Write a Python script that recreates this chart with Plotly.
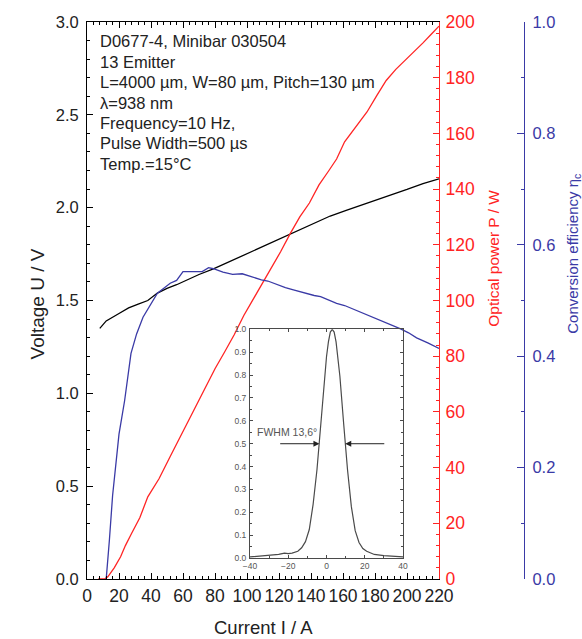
import plotly.graph_objects as go

# Voltage U (V) vs current I (A)
current_u = [8, 12, 20, 26, 32, 38, 44, 50, 56, 62, 70, 79, 88, 96, 102, 108, 116,
             127, 135, 143, 152, 162, 172, 181, 190, 200, 210, 220]
voltage = [1.35, 1.39, 1.43, 1.46, 1.48, 1.50, 1.54, 1.565, 1.585, 1.61, 1.64, 1.67,
           1.705, 1.74, 1.762, 1.785, 1.815, 1.86, 1.89, 1.92, 1.955, 1.985, 2.015,
           2.04, 2.065, 2.098, 2.13, 2.155]

# Optical power P (W) vs current I (A)
current_p = [7, 11, 13, 17, 21, 24, 28, 33, 38, 42, 45, 52, 60, 68, 75, 80, 86, 92,
             98, 104, 110, 116, 121, 127, 133, 139, 145, 151, 156, 161, 168, 175,
             181, 187, 193, 198, 204, 210, 215, 220]
power = [0, 0, 0.8, 4, 8, 12, 16.5, 22, 29.5, 33, 36, 44, 53, 62, 70, 75.5, 81.5,
         87.7, 94.6, 100.5, 106.6, 112.5, 117.5, 124, 130, 135, 141.5, 146.5, 150.8,
         157, 162.5, 167.7, 173.5, 179, 183, 185.7, 189, 192.5, 195.5, 198.5]

# Conversion efficiency vs current I (A)
current_e = [7, 12, 14, 16, 20, 23.5, 27.5, 31, 35, 38, 40.5, 44, 48, 52, 56, 60, 66,
             72, 76, 79, 85, 91, 97, 103, 109, 113, 119, 124, 129, 136, 142, 146, 151,
             156, 161, 167, 173, 179, 185, 191, 196, 201, 206, 213, 220]
efficiency = [-0.03, 0.0, 0.07, 0.15, 0.26, 0.32, 0.405, 0.44, 0.47, 0.485, 0.497,
              0.513, 0.522, 0.531, 0.536, 0.552, 0.552, 0.552, 0.559, 0.557, 0.551,
              0.547, 0.548, 0.542, 0.537, 0.535, 0.528, 0.523, 0.519, 0.513, 0.509,
              0.507, 0.501, 0.495, 0.491, 0.484, 0.477, 0.47, 0.462, 0.455, 0.449,
              0.442, 0.433, 0.424, 0.414]

# Far-field profile (inset), angle in degrees vs normalised intensity
angle = [-40, -35, -30, -25, -22, -20, -18, -16, -15, -13, -11, -9, -7, -5, -3, -1,
         0, 1, 2, 3, 4, 5, 6, 7, 9, 11, 13, 15, 17, 19, 21, 23, 25, 30, 35, 40]
intensity = [0.005, 0.008, 0.012, 0.016, 0.022, 0.02, 0.022, 0.026, 0.03, 0.045,
             0.072, 0.125, 0.235, 0.385, 0.585, 0.795, 0.88, 0.945, 0.988, 1.0,
             0.988, 0.945, 0.88, 0.795, 0.585, 0.385, 0.225, 0.12, 0.068, 0.042,
             0.03, 0.022, 0.016, 0.011, 0.008, 0.005]

info_lines = ["D0677-4, Minibar 030504", "13 Emitter",
              "L=4000 µm, W=80 µm, Pitch=130 µm", "λ=938 nm",
              "Frequency=10 Hz,", "Pulse Width=500 µs", "Temp.=15°C"]

RED = "#ff2424"
BLUE = "#3a3aa6"
GRAY = "#4a4a4a"
TXT = "#222222"
FONT = "Liberation Sans, Arial, sans-serif"

W, H = 582, 639
ML, MR, MT, MB = 87, 40, 19, 60
PW = W - ML - MR
PH = H - MT - MB


def px(xp):
    return (xp - ML) / PW


def py(yp):
    return (H - MB - yp) / PH


fig = go.Figure()
fig.add_trace(go.Scatter(x=current_u, y=voltage, mode="lines",
                         line=dict(color="black", width=1.3), xaxis="x", yaxis="y"))
fig.add_trace(go.Scatter(x=current_p, y=power, mode="lines",
                         line=dict(color=RED, width=1.3), xaxis="x", yaxis="y2"))
fig.add_trace(go.Scatter(x=current_e, y=efficiency, mode="lines",
                         line=dict(color=BLUE, width=1.3), xaxis="x", yaxis="y3"))
fig.add_trace(go.Scatter(x=angle, y=intensity, mode="lines",
                         line=dict(color=GRAY, width=1.2), xaxis="x4", yaxis="y4"))

xr = px(ML + 352)

fig.update_layout(
    width=W, height=H, margin=dict(l=ML, r=MR, t=MT, b=MB),
    paper_bgcolor="white", plot_bgcolor="rgba(0,0,0,0)", showlegend=False,
    font=dict(family=FONT),
    xaxis=dict(domain=[0, xr], range=[0, 220], dtick=20, showgrid=False,
               zeroline=False, showline=True, linecolor="black", linewidth=1,
               mirror="ticks", ticks="inside", ticklen=6, tickcolor="black",
               minor=dict(dtick=4, ticks="inside", ticklen=3, tickcolor="black"),
               tickfont=dict(family=FONT, size=17.5, color=TXT),
               ticklabelstandoff=1),
    yaxis=dict(range=[0, 3], dtick=0.5, tickformat=".1f", showgrid=False,
               zeroline=False, showline=True, linecolor="black", linewidth=1,
               ticks="inside", ticklen=6, tickcolor="black",
               minor=dict(dtick=0.1, ticks="inside", ticklen=3, tickcolor="black"),
               tickfont=dict(family=FONT, size=16.5, color=TXT),
               ticklabelstandoff=4),
    yaxis2=dict(overlaying="y", side="right", anchor="x", range=[0, 200], dtick=20,
                showgrid=False, zeroline=False, showline=True, linecolor=RED,
                linewidth=1.2, ticks="inside", ticklen=6, tickcolor=RED,
                minor=dict(dtick=4, ticks="inside", ticklen=3, tickcolor=RED),
                tickfont=dict(family=FONT, size=17.5, color=RED), ticklabelstandoff=2),
    yaxis3=dict(overlaying="y", side="right", anchor="free", position=px(524),
                range=[0, 1], dtick=0.2, tickformat=".1f", showgrid=False,
                zeroline=False, showline=True, linecolor=BLUE, linewidth=1.2,
                ticks="inside", ticklen=7, tickcolor=BLUE,
                minor=dict(dtick=0.1, ticks="inside", ticklen=3, tickcolor=BLUE),
                tickfont=dict(family=FONT, size=16.5, color=BLUE), ticklabelstandoff=4),
    xaxis4=dict(domain=[px(250), px(403)], anchor="y4", range=[-40, 40], dtick=20,
                showgrid=False, zeroline=False, showline=True, linecolor=GRAY,
                linewidth=1, mirror="ticks", ticks="inside", ticklen=3,
                tickcolor=GRAY, minor=dict(dtick=10, ticks="inside", ticklen=2,
                                           tickcolor=GRAY),
                tickfont=dict(family=FONT, size=8.5, color="#555555"),
                ticklabelstandoff=0),
    yaxis4=dict(domain=[py(558), py(328)], anchor="x4", range=[0, 1], dtick=0.1,
                tickformat=".1f", showgrid=False, zeroline=False, showline=True,
                linecolor=GRAY, linewidth=1, mirror="ticks", ticks="inside",
                ticklen=3, tickcolor=GRAY,
                minor=dict(dtick=0.05, ticks="inside", ticklen=2, tickcolor=GRAY),
                tickfont=dict(family=FONT, size=8.5, color="#555555"),
                ticklabelstandoff=1),
)

annotations = []
for i, line in enumerate(info_lines):
    annotations.append(dict(text=line, xref="paper", yref="paper", x=px(98),
                            y=py(38.5 + i * 20.5), xanchor="left", yanchor="middle",
                            showarrow=False,
                            font=dict(family=FONT, size=16.5, color=TXT)))

annotations += [
    dict(text="Voltage U / V", xref="paper", yref="paper", x=px(37), y=py(303),
         textangle=-90, showarrow=False, xanchor="center", yanchor="middle",
         font=dict(family=FONT, size=19, color=TXT)),
    dict(text="Current I / A", xref="paper", yref="paper", x=px(263), y=py(628),
         showarrow=False, xanchor="center", yanchor="middle",
         font=dict(family=FONT, size=18.5, color=TXT)),
    dict(text="Optical power P / W", xref="paper", yref="paper", x=px(494), y=py(257),
         textangle=-90, showarrow=False, xanchor="center", yanchor="middle",
         font=dict(family=FONT, size=15.5, color=RED)),
    dict(text="Conversion efficiency η<sub>c</sub>", xref="paper", yref="paper",
         x=px(574), y=py(252), textangle=-90, showarrow=False, xanchor="center",
         yanchor="middle", font=dict(family=FONT, size=15, color=BLUE)),
    # FWHM markers in the inset
    dict(text="FWHM 13,6°", xref="x4", yref="y4", x=-20.5, y=0.55, showarrow=False,
         xanchor="center", yanchor="middle",
         font=dict(family=FONT, size=10.5, color="#555555")),
    dict(text="", xref="x4", yref="y4", x=-3.7, y=0.5, ax=-25, ay=0.5,
         axref="x4", ayref="y4", showarrow=True, arrowhead=2, arrowsize=1.2,
         arrowwidth=1, arrowcolor="#222222", standoff=0),
    dict(text="", xref="x4", yref="y4", x=9.8, y=0.5, ax=31, ay=0.5,
         axref="x4", ayref="y4", showarrow=True, arrowhead=2, arrowsize=1.2,
         arrowwidth=1, arrowcolor="#222222", standoff=0),
]
fig.update_layout(annotations=annotations)

fig.write_html("out.html")
